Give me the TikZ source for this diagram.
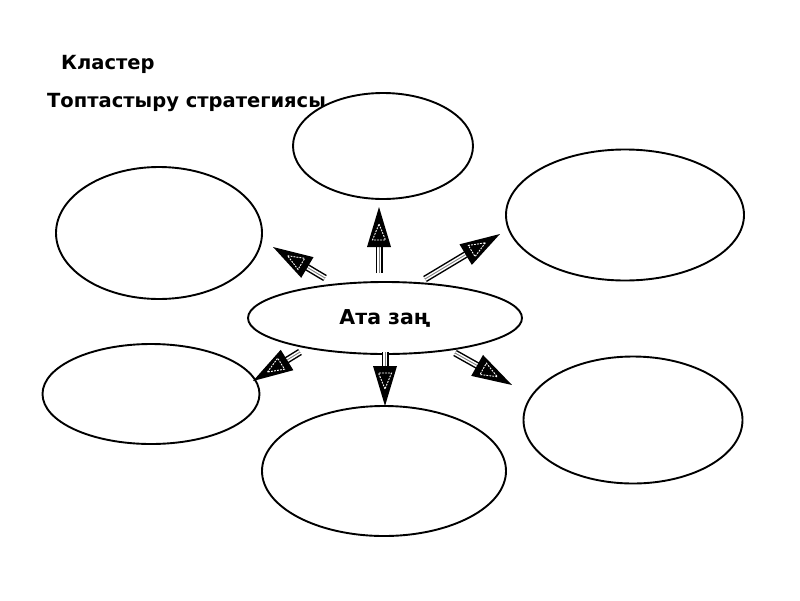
\documentclass[tikz,border=0pt]{standalone}
\usepackage{fontspec}
\setmainfont{DejaVu Sans}
\usetikzlibrary{calc}
\tikzset{
  bub/.style={draw=black, line width=1.9pt, fill=white, ellipse, inner sep=0pt},
  ttl/.style={font=\bfseries\fontsize{19.5}{22}\selectfont, anchor=west, inner sep=0pt},
  fat/.pic={
    \draw[line width=7pt, black] (0,0) -- ({#1-36},0);
    \draw[line width=4pt, white] (0,0) -- ({#1-36},0);
    \draw[line width=0.9pt, gray] (0,0) -- ({#1-36},0);
    \fill[black] (#1,0) -- ({#1-40},12) -- ({#1-40},-12) -- cycle;
    \draw[white, line width=0.9pt, dash pattern=on 1.8pt off 1.2pt] ({#1-17},0) -- ({#1-33},6.5) -- ({#1-33},-6.5) -- cycle;
  }
}
\usetikzlibrary{shapes.geometric}
\newcommand\fatarrow[2]{%
  \path let \p1=($(#2)-(#1)$), \n1={atan2(\y1,\x1)}, \n2={veclen(\x1,\y1)} in
    (#1) pic[rotate=\n1] {fat=\n2};}
\begin{document}
\begin{tikzpicture}[x=1pt,y=-1pt]
\useasboundingbox[fill=white] (0,0) rectangle (800,600);
\node[ttl] (t1) at (61,64) {Кластер};
\node[ttl] (t2) at (47,102) {Топтастыру стратегиясы};
% ellipses
\node[bub, minimum width=180, minimum height=106] (top) at (383,146) {};
\node[bub, minimum width=206, minimum height=132] (tl) at (159,233) {};
\node[bub, minimum width=238, minimum height=131] (tr) at (625,215) {};
\node[bub, minimum width=274, minimum height=72, font=\bfseries\fontsize{20.5}{23}\selectfont] (c) at (385,318) {Ата заң};
\node[bub, minimum width=217, minimum height=100] (bl) at (151,394) {};
\node[bub, minimum width=244, minimum height=130] (b) at (384,471) {};
\node[bub, minimum width=219, minimum height=127] (br) at (633,420) {};
% arrow ends
\coordinate (a1s) at (325,278); \coordinate (a1t) at (273,247);
\coordinate (a2s) at (379,273); \coordinate (a2t) at (379,207);
\coordinate (a3s) at (425,279); \coordinate (a3t) at (500,234);
\coordinate (a4s) at (300,352); \coordinate (a4t) at (253,381);
\coordinate (a5s) at (385,352); \coordinate (a5t) at (385,406);
\coordinate (a6s) at (455,353); \coordinate (a6t) at (512,385);
\fatarrow{a1s}{a1t}
\fatarrow{a2s}{a2t}
\fatarrow{a3s}{a3t}
\fatarrow{a4s}{a4t}
\fatarrow{a5s}{a5t}
\fatarrow{a6s}{a6t}
\end{tikzpicture}
\end{document}
